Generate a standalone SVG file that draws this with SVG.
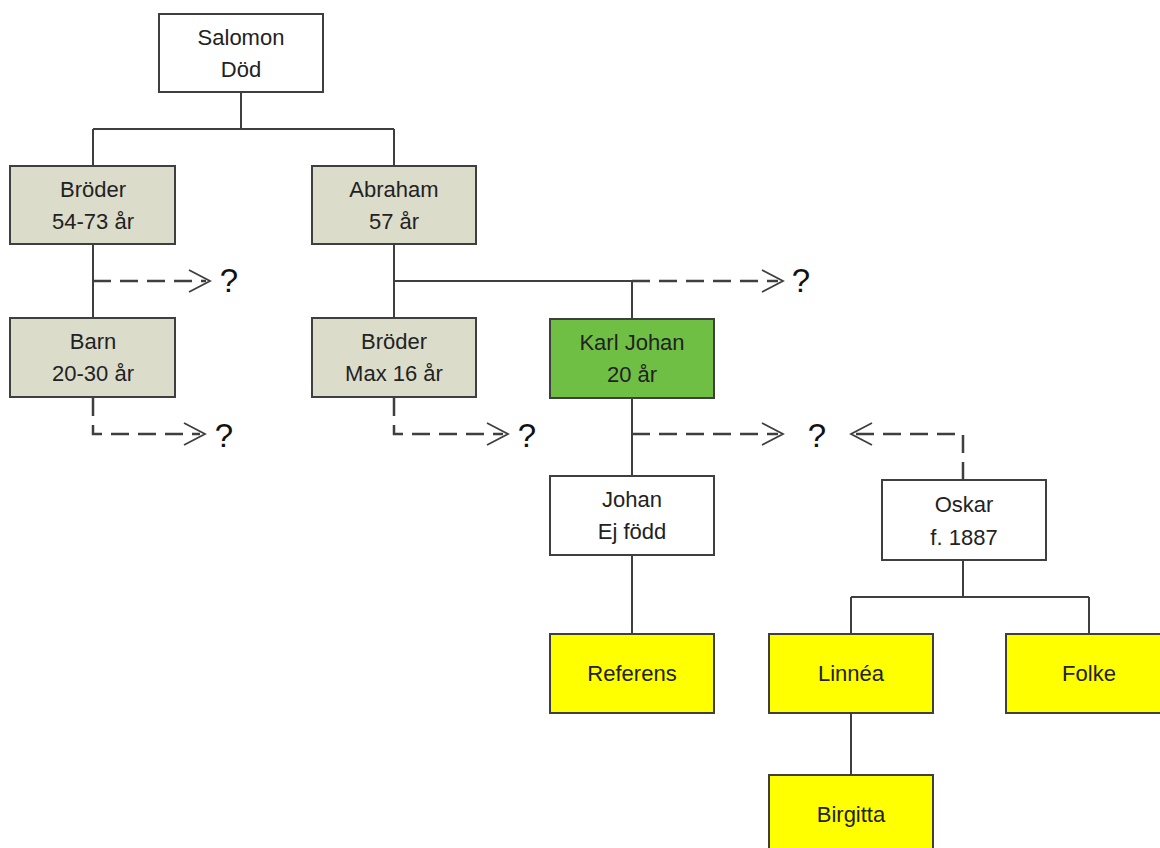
<svg xmlns="http://www.w3.org/2000/svg" width="1160" height="848" viewBox="0 0 1160 848">
<style>
.box{stroke:#3f3f3f;stroke-width:2}
.w{fill:#ffffff}.t{fill:#dcdccb}.g{fill:#70bf45}.y{fill:#ffff00}
.lbl{font-family:"Liberation Sans",Arial,sans-serif;font-size:22px;fill:#222;text-anchor:middle;dominant-baseline:central}
.q{font-family:"Liberation Sans",Arial,sans-serif;font-size:33px;fill:#111;text-anchor:middle;dominant-baseline:central}
.ln{fill:none;stroke:#3f3f3f;stroke-width:2}
.ds{fill:none;stroke:#3f3f3f;stroke-width:2.5;stroke-dasharray:18 9}
.ah{fill:none;stroke:#3f3f3f;stroke-width:1.8}
</style>
<rect width="1160" height="848" fill="#ffffff"/>
<g id="connectors">
<path class="ln" d="M241,92 V129 M93,129 H394 M93,129 V166 M394,129 V166"/>
<path class="ln" d="M93,244 V318"/>
<path class="ln" d="M394,244 V318 M394,281 H632 M632,281 V319"/>
<path class="ln" d="M632,398 V476"/>
<path class="ln" d="M632,555 V634"/>
<path class="ln" d="M963,560 V597 M851,597 H1089 M851,597 V634 M1089,597 V634"/>
<path class="ln" d="M851,713 V775"/>
<path class="ds" d="M93,281 H206"/>
<polyline class="ah" points="189,270 210,281 189,292"/>
<path class="ds" d="M93,398 V434 H200"/>
<polyline class="ah" points="184,423 205,434 184,445"/>
<path class="ds" d="M394,398 V434 H503"/>
<polyline class="ah" points="487,423 508,434 487,445"/>
<path class="ds" d="M632,281 H778"/>
<polyline class="ah" points="762,270 783,281 762,292"/>
<path class="ds" d="M632,434 H778"/>
<polyline class="ah" points="762,423 783,434 762,445"/>
<path class="ds" d="M856,434 H963 V480"/>
<polyline class="ah" points="872,423 851,434 872,445"/>
</g>
<g id="q-labels">
<text class="q" x="229" y="280">?</text>
<text class="q" x="224" y="435">?</text>
<text class="q" x="527" y="435">?</text>
<text class="q" x="801" y="280">?</text>
<text class="q" x="817" y="435">?</text>
</g>
<g id="salomon"><rect class="box w" x="159" y="14" width="164" height="78"/><text class="lbl" x="241" y="37">Salomon</text><text class="lbl" x="241" y="69">Död</text></g>
<g id="broder1"><rect class="box t" x="10" y="166" width="165" height="78"/><text class="lbl" x="93" y="189">Bröder</text><text class="lbl" x="93" y="221">54-73 år</text></g>
<g id="abraham"><rect class="box t" x="312" y="166" width="164" height="78"/><text class="lbl" x="394" y="189">Abraham</text><text class="lbl" x="394" y="221">57 år</text></g>
<g id="barn"><rect class="box t" x="10" y="318" width="165" height="79"/><text class="lbl" x="93" y="341">Barn</text><text class="lbl" x="93" y="373">20-30 år</text></g>
<g id="broder2"><rect class="box t" x="312" y="318" width="164" height="79"/><text class="lbl" x="394" y="341">Bröder</text><text class="lbl" x="394" y="373">Max 16 år</text></g>
<g id="karljohan"><rect class="box g" x="550" y="319" width="164" height="79"/><text class="lbl" x="632" y="342">Karl Johan</text><text class="lbl" x="632" y="374">20 år</text></g>
<g id="johan"><rect class="box w" x="550" y="476" width="164" height="79"/><text class="lbl" x="632" y="499">Johan</text><text class="lbl" x="632" y="531">Ej född</text></g>
<g id="oskar"><rect class="box w" x="882" y="480" width="164" height="80"/><text class="lbl" x="964" y="504">Oskar</text><text class="lbl" x="964" y="537">f. 1887</text></g>
<g id="referens"><rect class="box y" x="550" y="634" width="164" height="79"/><text class="lbl" x="632" y="673">Referens</text></g>
<g id="linnea"><rect class="box y" x="769" y="634" width="164" height="79"/><text class="lbl" x="851" y="673">Linnéa</text></g>
<g id="folke"><rect class="box y" x="1006" y="634" width="165" height="79"/><text class="lbl" x="1089" y="673">Folke</text></g>
<g id="birgitta"><rect class="box y" x="769" y="775" width="164" height="90"/><text class="lbl" x="851" y="814">Birgitta</text></g>
</svg>
